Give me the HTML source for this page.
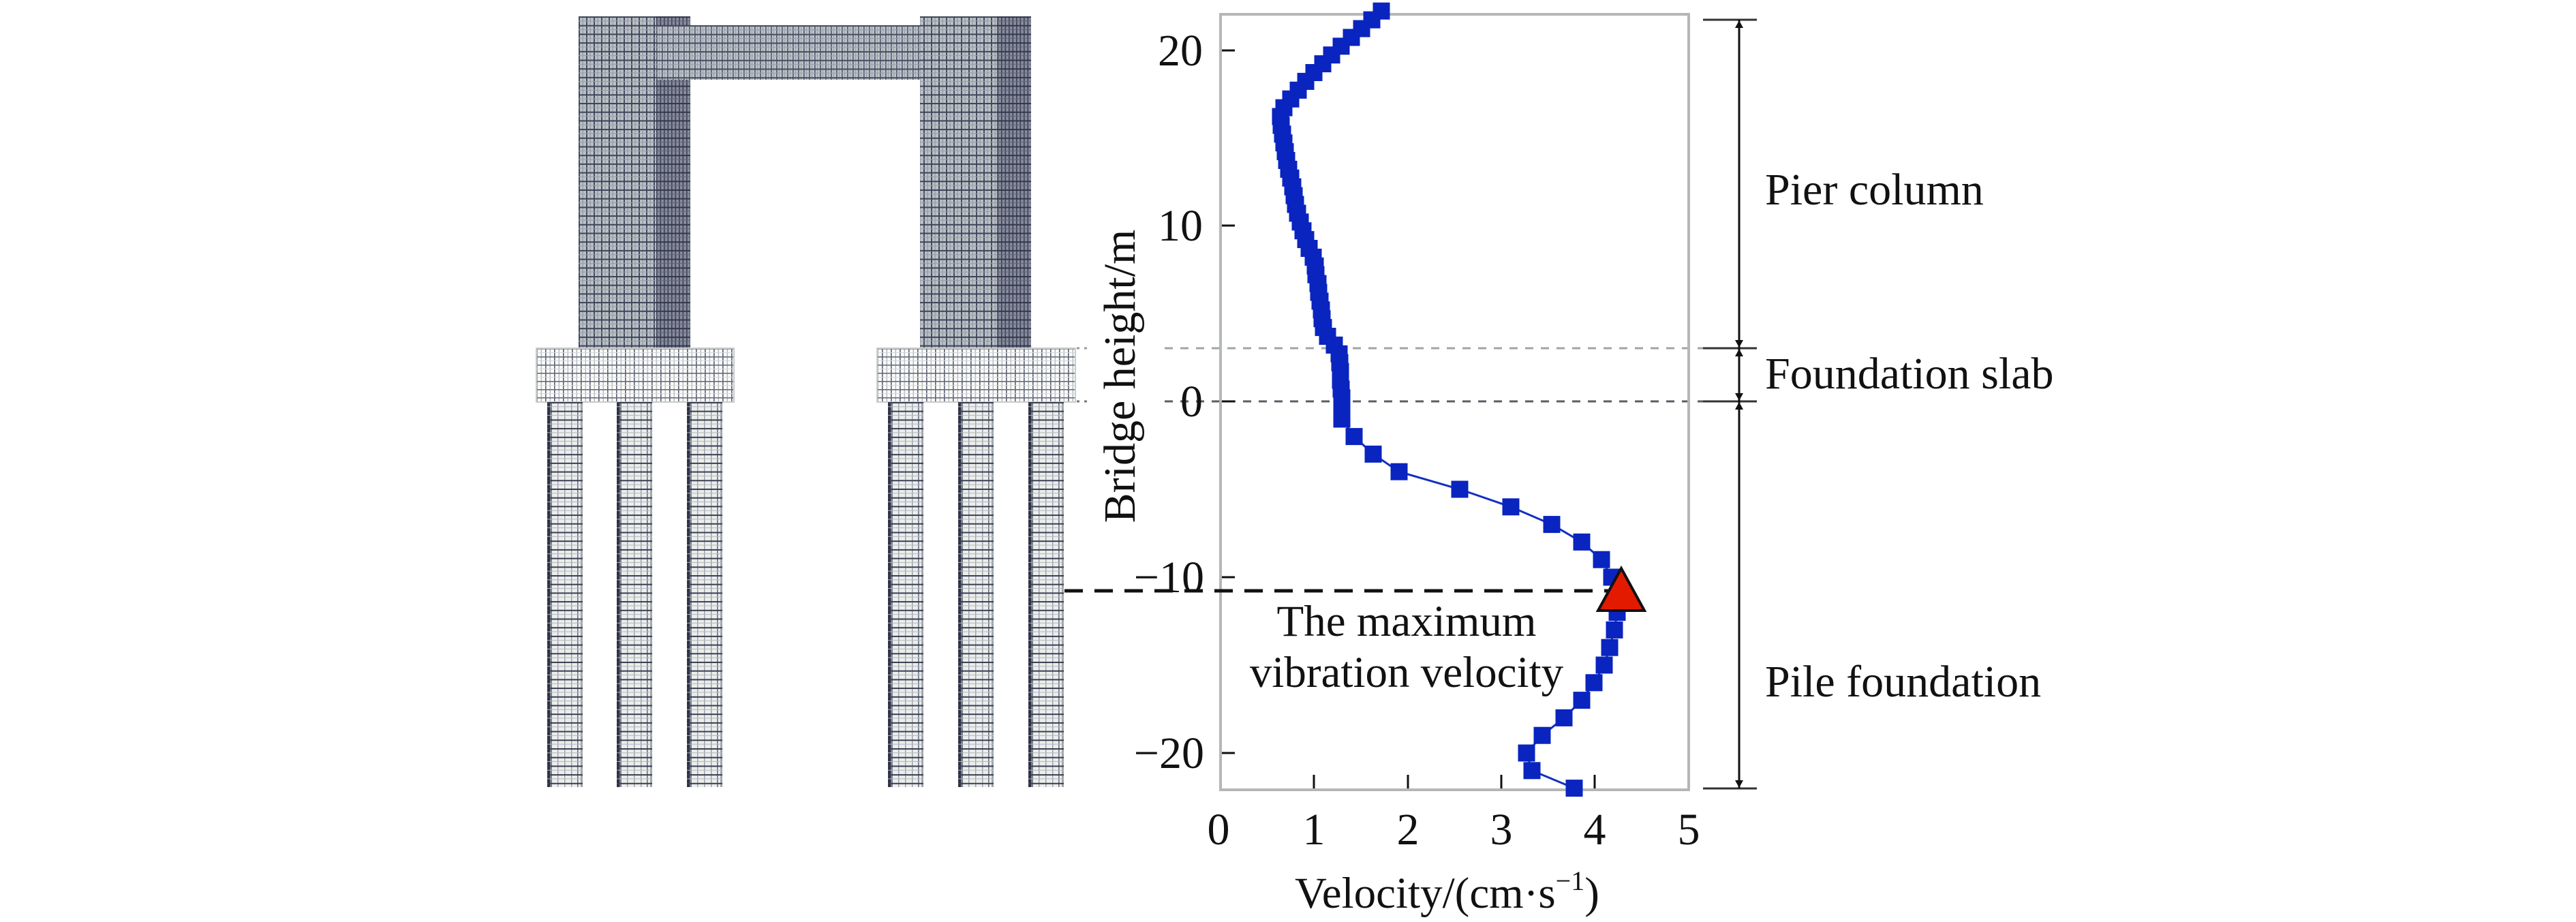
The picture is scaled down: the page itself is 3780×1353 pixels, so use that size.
<!DOCTYPE html>
<html><head><meta charset="utf-8"><style>
html,body{margin:0;padding:0;background:#fff;}
svg{display:block;}
text{font-family:"Liberation Serif","DejaVu Serif",serif;fill:#111;}
</style></head><body>
<svg width="3780" height="1353" viewBox="0 0 3780 1353" xmlns="http://www.w3.org/2000/svg">
<defs>
<pattern id="colMesh" width="11" height="12.7" patternUnits="userSpaceOnUse" x="849" y="24">
<rect width="11" height="12.7" fill="#b9c1c4"/>
<rect x="0" width="2" height="12.7" fill="#484d63"/>
<rect x="5.5" width="1.2" height="12.7" fill="#8f96a3"/>
<rect y="0" width="11" height="2" fill="#3f445a"/>
<rect y="6.3" width="11" height="1" fill="#959ca8"/>
</pattern>
<pattern id="darkMesh" width="5.5" height="12.7" patternUnits="userSpaceOnUse" x="963" y="24">
<rect width="5.5" height="12.7" fill="#878c9c"/>
<rect x="0" width="1.6" height="12.7" fill="#3c4055"/>
<rect y="0" width="5.5" height="2" fill="#33374c"/>
<rect y="6.3" width="5.5" height="1" fill="#5f6578"/>
</pattern>
<pattern id="beamMesh" width="8" height="12.7" patternUnits="userSpaceOnUse" x="963" y="37">
<rect width="8" height="12.7" fill="#bcc3c6"/>
<rect x="0" width="1.6" height="12.7" fill="#545970"/>
<rect x="4" width="1" height="12.7" fill="#979eaa"/>
<rect y="0" width="8" height="2" fill="#474c62"/>
<rect y="6.3" width="8" height="1" fill="#979eaa"/>
</pattern>
<pattern id="slabMesh" width="13" height="12" patternUnits="userSpaceOnUse" x="787" y="511">
<rect width="13" height="12" fill="#fdfdfc"/>
<rect x="0" width="1.6" height="12" fill="#5a5f72"/>
<rect x="6.5" width="1.6" height="12" fill="#b7bdbf"/>
<rect y="0" width="13" height="1.6" fill="#666b7b"/>
<rect y="6" width="13" height="1" fill="#d3d7d8"/>
</pattern>
<pattern id="pileMesh" width="52" height="12.7" patternUnits="userSpaceOnUse" x="0" y="0">
<rect width="52" height="12.7" fill="#eceeec"/>
<rect x="0" width="4" height="12.7" fill="#2c3042"/>
<rect x="4" width="3" height="12.7" fill="#7a808e"/>
<rect x="15" width="1.4" height="12.7" fill="#9aa0aa"/>
<rect x="25" width="1.4" height="12.7" fill="#9aa0aa"/>
<rect x="35" width="1.4" height="12.7" fill="#9aa0aa"/>
<rect x="44" width="1.6" height="12.7" fill="#6c7282"/>
<rect x="49" width="3" height="12.7" fill="#a0a6ae"/>
<rect y="0" width="52" height="2" fill="#3a3e52"/>
<rect y="6.3" width="52" height="1" fill="#b2b7bd"/>
</pattern>
</defs>

<!-- Structure -->
<rect x="849" y="24" width="164" height="487" fill="url(#colMesh)"/>
<rect x="963" y="24" width="50" height="487" fill="url(#darkMesh)"/>
<rect x="1350" y="24" width="163" height="487" fill="url(#colMesh)"/>
<rect x="1463" y="24" width="50" height="487" fill="url(#darkMesh)"/>
<rect x="963" y="37" width="387" height="80" fill="url(#beamMesh)"/>
<rect x="787" y="511" width="290" height="79" fill="url(#slabMesh)" stroke="#c8cccc" stroke-width="2"/>
<rect x="1287" y="511" width="291" height="79" fill="url(#slabMesh)" stroke="#c8cccc" stroke-width="2"/>
<g transform="translate(803,590)"><rect width="52" height="565" fill="url(#pileMesh)"/></g>
<g transform="translate(905,590)"><rect width="52" height="565" fill="url(#pileMesh)"/></g>
<g transform="translate(1008,590)"><rect width="52" height="565" fill="url(#pileMesh)"/></g>
<g transform="translate(1303,590)"><rect width="52" height="565" fill="url(#pileMesh)"/></g>
<g transform="translate(1406,590)"><rect width="52" height="565" fill="url(#pileMesh)"/></g>
<g transform="translate(1509,590)"><rect width="52" height="565" fill="url(#pileMesh)"/></g>

<!-- dotted near slab -->
<line x1="1580" y1="511" x2="1602" y2="511" stroke="#999" stroke-width="3" stroke-dasharray="4 7"/>
<line x1="1580" y1="589" x2="1602" y2="589" stroke="#777" stroke-width="3" stroke-dasharray="4 7"/>

<!-- gray dashed reference lines -->
<line x1="1709" y1="511" x2="2564" y2="511" stroke="#a0a4a4" stroke-width="3" stroke-dasharray="12 11"/>
<line x1="1709" y1="589" x2="2564" y2="589" stroke="#5a5d66" stroke-width="3" stroke-dasharray="12 11"/>

<!-- plot frame -->
<rect x="1791" y="21" width="687" height="1138" fill="none" stroke="#b3b8b7" stroke-width="4"/>

<!-- ticks -->
<g stroke="#111" stroke-width="3">
<line x1="1793" y1="74" x2="1812" y2="74"/>
<line x1="1793" y1="331" x2="1812" y2="331"/>
<line x1="1793" y1="589" x2="1812" y2="589"/>
<line x1="1793" y1="847" x2="1812" y2="847"/>
<line x1="1793" y1="1105" x2="1812" y2="1105"/>
<line x1="1928" y1="1157" x2="1928" y2="1137"/>
<line x1="2066" y1="1157" x2="2066" y2="1137"/>
<line x1="2203" y1="1157" x2="2203" y2="1137"/>
<line x1="2340" y1="1157" x2="2340" y2="1137"/>
</g>

<!-- y tick labels -->
<g font-size="66" text-anchor="end">
<text x="1765" y="96">20</text>
<text x="1765" y="353">10</text>
<text x="1765" y="611">0</text>
<text x="1767" y="869">−10</text>
<text x="1767" y="1127">−20</text>
</g>
<!-- x tick labels -->
<g font-size="66" text-anchor="middle">
<text x="1788" y="1239">0</text>
<text x="1928" y="1239">1</text>
<text x="2066" y="1239">2</text>
<text x="2203" y="1239">3</text>
<text x="2340" y="1239">4</text>
<text x="2478" y="1239">5</text>
</g>

<!-- axis titles -->
<text x="1900" y="1332" font-size="65">Velocity/(cm·s<tspan dy="-26" font-size="40">−1</tspan><tspan dy="26">)</tspan></text>
<text transform="translate(1665,552) rotate(-90)" font-size="66" text-anchor="middle">Bridge height/m</text>

<!-- black dashed line -->
<line x1="1562" y1="867" x2="2360" y2="867" stroke="#111" stroke-width="5" stroke-dasharray="27 17"/>

<!-- curve -->
<polyline fill="none" stroke="#1230c2" stroke-width="3" points="2027,16.2 2013,29.1 1998,42 1983,54.9 1968,67.8 1954,80.7 1941,93.6 1928,106.5 1916,119.4 1905,132.3 1894,145.2 1884,158.1 1879,171 1880,183.9 1882,196.8 1884,209.7 1886,222.6 1888,235.5 1891,248.4 1894,261.3 1897,274.2 1899,287.1 1901,300 1904,312.9 1908,325.8 1912,338.7 1916,351.6 1921,364.5 1927,377.4 1930,390.3 1931,403.2 1934,416.1 1935,429 1937,441.9 1939,454.8 1940,467.7 1942,480.6 1948,493.5 1958,506.4 1965,519.3 1966,532.2 1967,545.1 1967,558 1968,570.9 1969,583.8 1969,596.7 1969,609.6 1969,615 1987,640.6 2015,666.4 2053,692.2 2142,718 2217,743.8 2277,769.6 2321,795.4 2350,821.2 2365,847 2379,872.8 2373,898.6 2369,924.4 2362,950.2 2354,976 2339,1001.8 2321,1027.6 2295,1053.4 2263,1079.2 2240,1105 2248,1130.8 2310,1156.6"/>

<!-- markers -->
<g fill="#0a24bf">
<rect x="2014.5" y="3.7" width="25" height="25"/>
<rect x="2000.5" y="16.6" width="25" height="25"/>
<rect x="1985.5" y="29.5" width="25" height="25"/>
<rect x="1970.5" y="42.4" width="25" height="25"/>
<rect x="1955.5" y="55.3" width="25" height="25"/>
<rect x="1941.5" y="68.2" width="25" height="25"/>
<rect x="1928.5" y="81.1" width="25" height="25"/>
<rect x="1915.5" y="94" width="25" height="25"/>
<rect x="1903.5" y="106.9" width="25" height="25"/>
<rect x="1892.5" y="119.8" width="25" height="25"/>
<rect x="1881.5" y="132.7" width="25" height="25"/>
<rect x="1871.5" y="145.6" width="25" height="25"/>
<rect x="1866.5" y="158.5" width="25" height="25"/>
<rect x="1867.5" y="171.4" width="25" height="25"/>
<rect x="1869.5" y="184.3" width="25" height="25"/>
<rect x="1871.5" y="197.2" width="25" height="25"/>
<rect x="1873.5" y="210.1" width="25" height="25"/>
<rect x="1875.5" y="223" width="25" height="25"/>
<rect x="1878.5" y="235.9" width="25" height="25"/>
<rect x="1881.5" y="248.8" width="25" height="25"/>
<rect x="1884.5" y="261.7" width="25" height="25"/>
<rect x="1886.5" y="274.6" width="25" height="25"/>
<rect x="1888.5" y="287.5" width="25" height="25"/>
<rect x="1891.5" y="300.4" width="25" height="25"/>
<rect x="1895.5" y="313.3" width="25" height="25"/>
<rect x="1899.5" y="326.2" width="25" height="25"/>
<rect x="1903.5" y="339.1" width="25" height="25"/>
<rect x="1908.5" y="352" width="25" height="25"/>
<rect x="1914.5" y="364.9" width="25" height="25"/>
<rect x="1917.5" y="377.8" width="25" height="25"/>
<rect x="1918.5" y="390.7" width="25" height="25"/>
<rect x="1921.5" y="403.6" width="25" height="25"/>
<rect x="1922.5" y="416.5" width="25" height="25"/>
<rect x="1924.5" y="429.4" width="25" height="25"/>
<rect x="1926.5" y="442.3" width="25" height="25"/>
<rect x="1927.5" y="455.2" width="25" height="25"/>
<rect x="1929.5" y="468.1" width="25" height="25"/>
<rect x="1935.5" y="481" width="25" height="25"/>
<rect x="1945.5" y="493.9" width="25" height="25"/>
<rect x="1952.5" y="506.8" width="25" height="25"/>
<rect x="1953.5" y="519.7" width="25" height="25"/>
<rect x="1954.5" y="532.6" width="25" height="25"/>
<rect x="1954.5" y="545.5" width="25" height="25"/>
<rect x="1955.5" y="558.4" width="25" height="25"/>
<rect x="1956.5" y="571.3" width="25" height="25"/>
<rect x="1956.5" y="584.2" width="25" height="25"/>
<rect x="1956.5" y="597.1" width="25" height="25"/>
<rect x="1956.5" y="602.5" width="25" height="25"/>
<rect x="1974.5" y="628.1" width="25" height="25"/>
<rect x="2002.5" y="653.9" width="25" height="25"/>
<rect x="2040.5" y="679.7" width="25" height="25"/>
<rect x="2129.5" y="705.5" width="25" height="25"/>
<rect x="2204.5" y="731.3" width="25" height="25"/>
<rect x="2264.5" y="757.1" width="25" height="25"/>
<rect x="2308.5" y="782.9" width="25" height="25"/>
<rect x="2337.5" y="808.7" width="25" height="25"/>
<rect x="2352.5" y="834.5" width="25" height="25"/>
<rect x="2366.5" y="860.3" width="25" height="25"/>
<rect x="2360.5" y="886.1" width="25" height="25"/>
<rect x="2356.5" y="911.9" width="25" height="25"/>
<rect x="2349.5" y="937.7" width="25" height="25"/>
<rect x="2341.5" y="963.5" width="25" height="25"/>
<rect x="2326.5" y="989.3" width="25" height="25"/>
<rect x="2308.5" y="1015.1" width="25" height="25"/>
<rect x="2282.5" y="1040.9" width="25" height="25"/>
<rect x="2250.5" y="1066.7" width="25" height="25"/>
<rect x="2227.5" y="1092.5" width="25" height="25"/>
<rect x="2235.5" y="1118.3" width="25" height="25"/>
<rect x="2297.5" y="1144.1" width="25" height="25"/>
</g>

<!-- max triangle -->
<polygon points="2379,834 2345,896 2413,896" fill="#e41a00" stroke="#111" stroke-width="4"/>

<!-- annotation -->
<g font-size="65" text-anchor="middle">
<text x="2064" y="933">The maximum</text>
<text x="2064" y="1008">vibration velocity</text>
</g>

<!-- dimension lines -->
<g stroke="#333" stroke-width="3">
<line x1="2499" y1="29" x2="2578" y2="29"/>
<line x1="2499" y1="511" x2="2578" y2="511"/>
<line x1="2499" y1="589" x2="2578" y2="589"/>
<line x1="2499" y1="1157" x2="2578" y2="1157"/>
</g>
<line x1="2552" y1="29" x2="2552" y2="1157" stroke="#111" stroke-width="3"/>
<g fill="#111">
<polygon points="2552,30 2546,41 2558,41"/>
<polygon points="2552,510 2546,499 2558,499"/>
<polygon points="2552,512 2546,523 2558,523"/>
<polygon points="2552,588 2546,577 2558,577"/>
<polygon points="2552,590 2546,601 2558,601"/>
<polygon points="2552,1156 2546,1145 2558,1145"/>
</g>

<!-- right labels -->
<g font-size="66">
<text x="2590" y="300">Pier column</text>
<text x="2590" y="570">Foundation slab</text>
<text x="2590" y="1022">Pile foundation</text>
</g>
</svg>
</body></html>
